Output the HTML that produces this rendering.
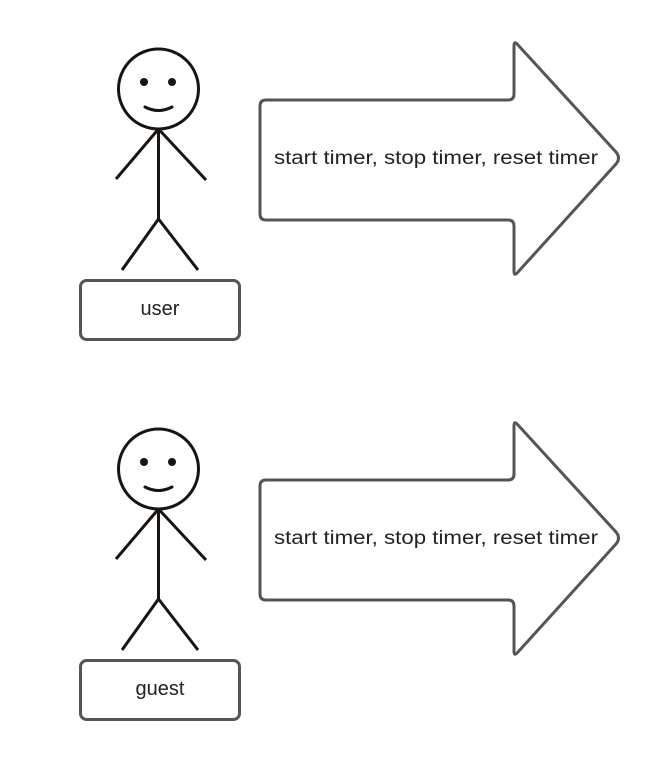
<!DOCTYPE html>
<html><head><meta charset="utf-8"><style>
html,body{margin:0;padding:0;background:#fff;}
svg{display:block;}
text{font-family:"Liberation Sans",Arial,sans-serif;fill:#222;}
</style></head><body>
<svg width="660" height="760" viewBox="0 0 660 760" xmlns="http://www.w3.org/2000/svg">
<defs>
<g id="fig">
  <circle cx="158.5" cy="89" r="40" fill="none" stroke="#1a1411" stroke-width="3"/>
  <circle cx="144" cy="82" r="4" fill="#1a1411"/>
  <circle cx="172" cy="82" r="4" fill="#1a1411"/>
  <path d="M145 107 Q158.5 114 172 107" fill="none" stroke="#1a1411" stroke-width="3" stroke-linecap="round"/>
  <path d="M158.5 129 L116 179 M158.5 129 L206 180 M158.5 129 L158.5 219 L122 270 M158.5 219 L198 270" fill="none" stroke="#1a1411" stroke-width="3"/>
  <rect x="80.5" y="280.5" width="159" height="59" rx="6" fill="#fff" stroke="#555" stroke-width="3"/>
  <path d="M265 100 L508 100 Q514 100 514 94 L514 46 Q514 40 518 45 L616 152 Q621 158 616 164 L518 272 Q514 277 514 271 L514 226 Q514 220 508 220 L266 220 Q260 220 260 214 L260 106 Q260 100 266 100 Z" fill="#fff" stroke="#555" stroke-width="3" stroke-linejoin="round"/>
</g>
</defs>
<use href="#fig"/>
<use href="#fig" y="380"/>
<text x="160" y="315" font-size="20" text-anchor="middle">user</text>
<text x="160" y="695" font-size="20" text-anchor="middle">guest</text>
<text x="274" y="164" font-size="19" textLength="324" lengthAdjust="spacingAndGlyphs">start timer, stop timer, reset timer</text>
<text x="274" y="544" font-size="19" textLength="324" lengthAdjust="spacingAndGlyphs">start timer, stop timer, reset timer</text>
</svg>
</body></html>
